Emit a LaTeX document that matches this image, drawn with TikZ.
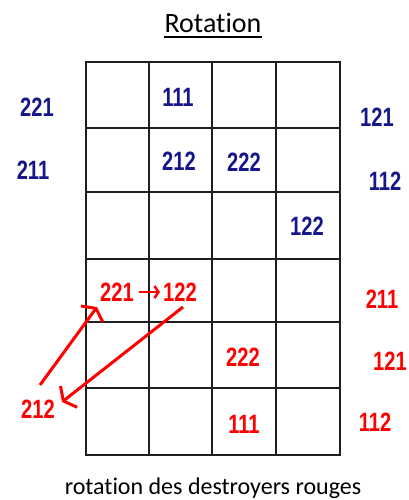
\documentclass[tikz,border=0pt]{standalone}
\usepackage{fontspec}
\usepackage{graphicx}
\setmainfont{Carlito}[Ligatures=NoCommon]
\newfontfamily\arialbold{Liberation Sans Bold}
\newcommand{\nm}[1]{{\arialbold\fontsize{26.5}{26.5}\selectfont\scalebox{0.76}[1]{#1}}}
\usetikzlibrary{arrows.meta}
\definecolor{navy}{RGB}{22,22,140}
\definecolor{rred}{RGB}{255,0,0}
\begin{document}
\begin{tikzpicture}[x=1pt,y=-1pt,
  num/.style={inner sep=0pt},
  bnum/.style={num,text=navy},
  rnum/.style={num,text=rred},
  gridline/.style={line width=2.2pt,draw=black!88,line cap=rect},
  redarrow/.style={draw=rred,line width=3pt,-{Straight Barb[length=7pt,width=27pt]}},
  smallarrow/.style={draw=rred,line width=2.5pt,-{Straight Barb[length=4pt,width=12pt]}}]
\useasboundingbox (0,0) rectangle (409,500);
% title
\node[font=\fontsize{28}{28}\selectfont, anchor=base, inner sep=0pt] (title) at (213,33) {Rotation};
\draw[line width=1.4pt] ([yshift=-4pt]title.base west) -- ([yshift=-4pt]title.base east);
% grid
\foreach \x in {86,149,212,276,340} \draw[gridline] (\x,62) -- (\x,455);
\foreach \y in {62,128,192,259,322,388,455} \draw[gridline] (86,\y) -- (340,\y);
% blue labels
\node[bnum] (b221) at (37,107) {\nm{221}};
\node[bnum] (b211) at (33,170) {\nm{211}};
\node[bnum] (b111) at (178,97) {\nm{111}};
\node[bnum] (b212) at (179,161) {\nm{212}};
\node[bnum] (b222) at (244,162) {\nm{222}};
\node[bnum] (b122) at (307,226) {\nm{122}};
\node[bnum] (b121) at (377,117) {\nm{121}};
\node[bnum] (b112) at (385,181) {\nm{112}};
% red labels
\node[rnum] (r221) at (117,292) {\nm{221}};
\node[rnum] (r122) at (180,292) {\nm{122}};
\node[rnum] (r211) at (382,299) {\nm{211}};
\node[rnum] (r222) at (243,357) {\nm{222}};
\node[rnum] (r121) at (390,361) {\nm{121}};
\node[rnum] (r212) at (38,409) {\nm{212}};
\node[rnum] (r111) at (244,424) {\nm{111}};
\node[rnum] (r112) at (375,422) {\nm{112}};
% arrows
\draw[smallarrow, shorten <=5pt, shorten >=3pt] (r221.east) -- (r122.west);
\coordinate (a1s) at (40,385);
\coordinate (a1e) at (97,307);
\coordinate (a2s) at (183,307);
\coordinate (a2e) at (62,402);
\draw[redarrow] (a1s) -- (a1e);
\draw[redarrow] (a2s) -- (a2e);
% caption
\node[font=\fontsize{24}{24}\selectfont, anchor=base, inner sep=0pt] (caption) at (213,494) {rotation des destroyers rouges};
\end{tikzpicture}
\end{document}
